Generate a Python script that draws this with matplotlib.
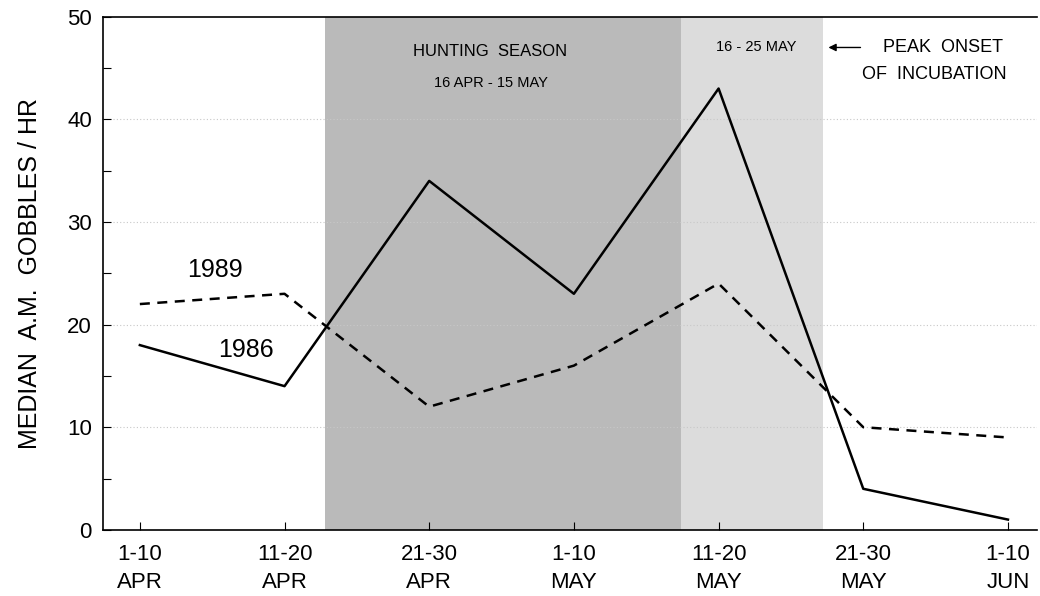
import matplotlib
matplotlib.use("Agg")
import matplotlib.pyplot as plt

plt.rcParams['font.family'] = ['Liberation Sans', 'DejaVu Sans']

periods = ["1-10\nAPR", "11-20\nAPR", "21-30\nAPR", "1-10\nMAY", "11-20\nMAY", "21-30\nMAY", "1-10\nJUN"]
gobbles_1986 = [18, 14, 34, 23, 43, 4, 1]
gobbles_1989 = [22, 23, 12, 16, 24, 10, 9]
y_ticks = [0, 10, 20, 30, 40, 50]

fig = plt.figure(figsize=(10.4, 5.96), dpi=100)
ax = fig.add_axes([0.099, 0.111, 0.898, 0.861])

x = list(range(len(periods)))
ax.set_xlim(-0.255, 6.2)
ax.set_ylim(0, 50)

# shaded periods
ax.axvspan(1.28, 3.74, facecolor='#bababa', edgecolor='none', zorder=0)
ax.axvspan(3.74, 4.72, facecolor='#dcdcdc', edgecolor='none', zorder=0)

# faint gridlines
for yv in [10, 20, 30, 40]:
    ax.axhline(yv, color='#c8c8c8', lw=0.8, ls=(0, (1, 2)), zorder=0.5)

ax.plot(x, gobbles_1986, color='black', lw=1.8, zorder=3)
ax.plot(x, gobbles_1989, color='black', lw=1.8, ls=(0, (4, 3)), zorder=3)

ax.text(0.52, 25.3, "1989", fontsize=18, ha='center', va='center')
ax.text(0.73, 17.5, "1986", fontsize=18, ha='center', va='center')

ax.text(2.42, 46.6, "HUNTING  SEASON", fontsize=12, ha='center', va='center')
ax.text(2.43, 43.5, "16 APR - 15 MAY", fontsize=10.5, ha='center', va='center')
ax.text(4.26, 47.0, "16 - 25 MAY", fontsize=10.5, ha='center', va='center')
ax.annotate("", xy=(4.74, 47.0), xytext=(5.0, 47.0),
            arrowprops=dict(arrowstyle='-|>', color='black', lw=1.0, mutation_scale=11))
ax.text(5.55, 47.0, "PEAK  ONSET", fontsize=13, ha='center', va='center')
ax.text(5.49, 44.4, "OF  INCUBATION", fontsize=13, ha='center', va='center')

ax.set_xticks(x)
ax.set_xticklabels(periods, fontsize=16, linespacing=1.45)
ax.set_yticks(y_ticks)
ax.set_yticklabels([str(v) for v in y_ticks], fontsize=16)
ax.set_yticks([5, 15, 25, 35, 45], minor=True)
ax.tick_params(axis='y', which='both', direction='in', length=6, width=0.8, pad=8)
ax.tick_params(axis='x', direction='in', length=6, width=0.8, pad=10)

ax.set_ylabel("MEDIAN  A.M.  GOBBLES / HR", fontsize=18, labelpad=18)

ax.spines['right'].set_visible(False)
for s in ['left', 'bottom', 'top']:
    ax.spines[s].set_linewidth(1.2)

fig.savefig("out.png", dpi=100)
